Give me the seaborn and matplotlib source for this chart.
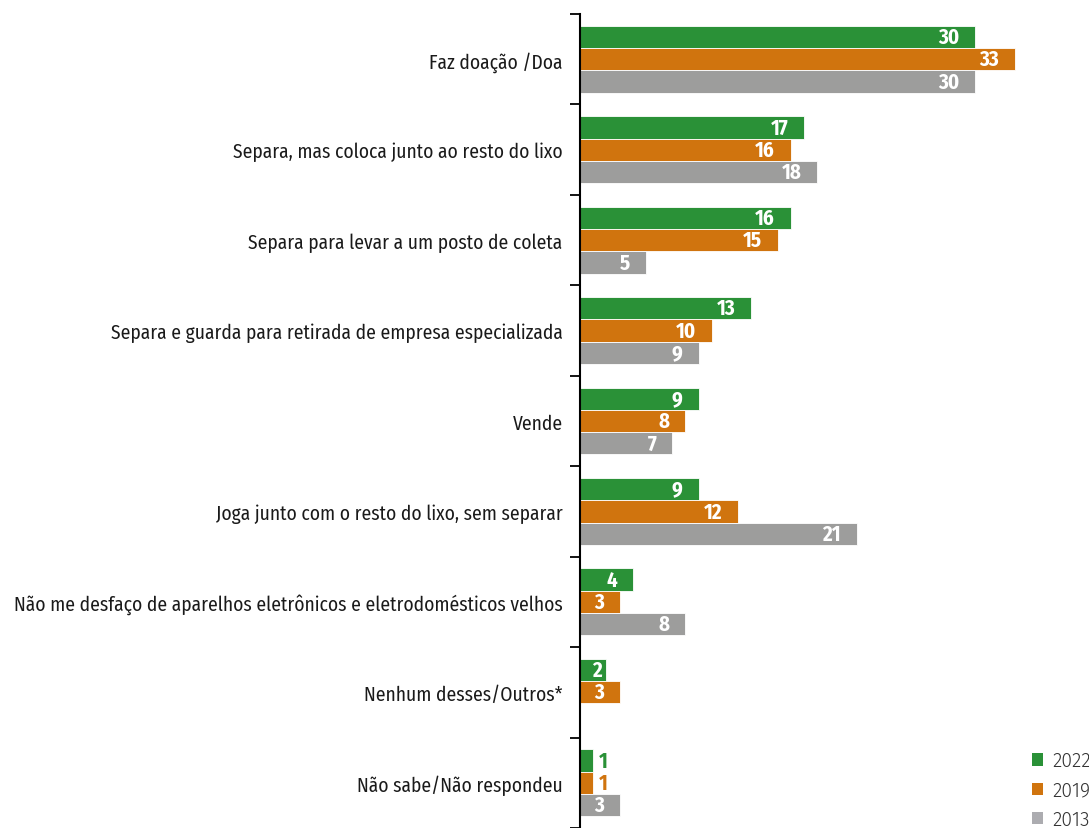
import numpy as np
import pandas as pd
import matplotlib.pyplot as plt
import seaborn as sns
from matplotlib.patches import Patch

categories = [
    "Faz doação /Doa",
    "Separa, mas coloca junto ao resto do lixo",
    "Separa para levar a um posto de coleta",
    "Separa e guarda para retirada de empresa especializada",
    "Vende",
    "Joga junto com o resto do lixo, sem separar",
    "Não me desfaço de aparelhos eletrônicos e eletrodomésticos velhos",
    "Nenhum desses/Outros*",
    "Não sabe/Não respondeu",
]
years = ["2022", "2019", "2013"]
v2022 = [30, 17, 16, 13, 9, 9, 4, 2, 1]
v2019 = [33, 16, 15, 10, 8, 12, 3, 3, 1]
v2013 = [30, 18, 5, 9, 7, 21, 8, np.nan, 3]
colors = ["#2a9137", "#d0740e", "#9d9d9c"]
legend_colors = ["#2a9137", "#d0740e", "#acacb0"]

df = pd.DataFrame({
    "categoria": categories * 3,
    "ano": [y for y in years for _ in categories],
    "valor": v2022 + v2019 + v2013,
})

sns.set_style("white")
plt.rcParams["font.family"] = ["Fira Sans Condensed", "Roboto", "DejaVu Sans"]

fig = plt.figure(figsize=(10.89, 8.29), dpi=100)
ax = fig.add_axes([580 / 1089, 0, 509 / 1089, 1 - 15 / 829])

sns.barplot(data=df, y="categoria", x="valor", hue="ano", order=categories,
            hue_order=years, palette=colors, orient="h", width=0.74,
            saturation=1, edgecolor="white", linewidth=0.6, legend=False, ax=ax)

ax.set_xlim(0, 38.65)
ax.set_ylim(8.5, -0.5)
ax.set_xlabel("")
ax.set_ylabel("")
ax.set_xticks([])

# value labels (white inside, coloured outside for tiny bars)
for cont, col in zip(ax.containers, colors):
    for bar in cont:
        w = bar.get_width()
        if np.isnan(w):
            continue
        yc = bar.get_y() + bar.get_height() / 2
        if w < 1.5:
            ax.text(w + 0.45, yc, f"{int(w)}", ha="left", va="center",
                    color=col, fontsize=15, fontweight="bold")
        else:
            ax.text(max(w - 1.2, 1.65), yc, f"{int(w)}", ha="right", va="center",
                    color="white", fontsize=15, fontweight="bold")

# boundary ticks and category labels
ax.set_yticks(np.arange(-0.5, 9.0, 1.0))
ax.set_yticklabels([])
ax.tick_params(axis="y", which="major", direction="out", length=7, width=1.3,
               color="black", left=True)
ax.set_yticks(np.arange(len(categories)), minor=True)
ax.set_yticklabels(categories, minor=True, fontsize=14, color="#1a1a1a")
ax.tick_params(axis="y", which="minor", length=0, pad=12.5)

for s in ["top", "right", "bottom"]:
    ax.spines[s].set_visible(False)
ax.spines["left"].set_color("black")
ax.spines["left"].set_linewidth(1.5)

handles = [Patch(facecolor=c, edgecolor="none") for c in legend_colors]
fig.legend(handles, years, loc="upper left",
           bbox_to_anchor=(1024 / 1089, 1 - 744 / 829), frameon=False,
           labelcolor="#333333", handlelength=0.6, handleheight=0.6,
           handletextpad=0.45, labelspacing=0.5, borderaxespad=0,
           prop={"family": ["Fira Sans", "Roboto", "DejaVu Sans"], "weight": 300, "size": 14})

fig.savefig("out.png", dpi=100)
